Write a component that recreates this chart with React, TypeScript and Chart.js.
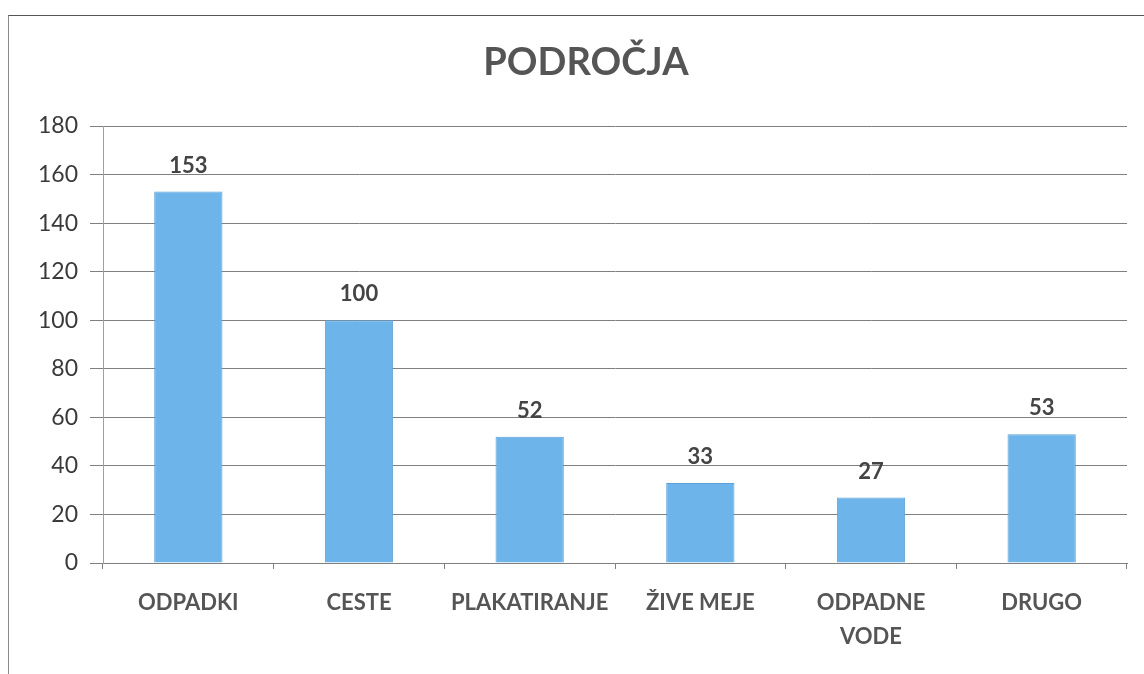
import React, { useEffect, useRef } from "react";
import { Chart, registerables } from "chart.js";

Chart.register(...registerables);

const TITLE = "PODROČJA";
const categories: (string | string[])[] = [
  "ODPADKI",
  "CESTE",
  "PLAKATIRANJE",
  "ŽIVE MEJE",
  ["ODPADNE", "VODE"],
  "DRUGO",
];
const values = [153, 100, 52, 33, 27, 53];
const yTicks = [0, 20, 40, 60, 80, 100, 120, 140, 160, 180];

const FONT = "Lato, 'Noto Sans', sans-serif";

const valueLabels = {
  id: "valueLabels",
  afterDatasetsDraw(chart: any) {
    const ctx = chart.ctx;
    const meta = chart.getDatasetMeta(0);
    ctx.save();
    ctx.font = `bold 22px ${FONT}`;
    ctx.fillStyle = "#444444";
    ctx.textAlign = "center";
    ctx.textBaseline = "middle";
    meta.data.forEach((el: any, i: number) => {
      ctx.fillText(String(values[i]), el.x, el.y - 26);
    });
    ctx.restore();
  },
};

const titlePlugin = {
  id: "offsetTitle",
  afterDraw(chart: any) {
    const ctx = chart.ctx;
    const { left, right, top } = chart.chartArea;
    ctx.save();
    ctx.font = `bold 38px ${FONT}`;
    ctx.fillStyle = "#555555";
    ctx.textAlign = "center";
    ctx.textBaseline = "middle";
    ctx.fillText(TITLE, (left + right) / 2 - 29, top - 63);
    ctx.restore();
  },
};

export default function App() {
  const ref = useRef<HTMLCanvasElement | null>(null);

  useEffect(() => {
    if (!ref.current) return;
    const chart = new Chart(ref.current, {
      type: "bar",
      data: {
        labels: categories,
        datasets: [
          {
            data: values,
            backgroundColor: "#6cb4ea",
            borderColor: "#5d9fd6",
            borderWidth: 1,
            barPercentage: 0.8,
            categoryPercentage: 0.5,
          },
        ],
      },
      plugins: [valueLabels, titlePlugin],
      options: {
        responsive: false,
        animation: false,
        layout: { padding: { left: 0, right: 37, top: 111, bottom: 0 } },
        plugins: {
          legend: { display: false },
          tooltip: { enabled: false },
          title: { display: false },
        },
        scales: {
          x: {
            grid: {
              offset: true,
              drawOnChartArea: false,
              drawTicks: true,
              tickLength: 6,
              color: "#808080",
            },
            border: { display: true, color: "#808080", width: 1 },
            ticks: {
              color: "#555555",
              font: { family: FONT, size: 22, weight: "bold", lineHeight: 1.55 },
              padding: 17,
              maxRotation: 0,
              autoSkip: false,
            },
            afterFit: (s: any) => {
              s.height = 111;
            },
          },
          y: {
            min: 0,
            max: 180,
            afterBuildTicks: (s: any) => {
              s.ticks = yTicks.map((v) => ({ value: v }));
            },
            grid: {
              color: "#808080",
              lineWidth: 1,
              drawTicks: true,
              tickLength: 13,
            },
            border: { display: true, color: "#a0a0a0", width: 1 },
            ticks: {
              color: "#3a3a3a",
              font: { family: FONT, size: 23 },
              padding: 12,
            },
            afterFit: (s: any) => {
              s.width = 95;
            },
          },
        },
      },
    });
    return () => chart.destroy();
  }, []);

  return (
    <div
      style={{
        position: "fixed",
        left: 0,
        top: 0,
        width: 1144,
        height: 674,
        overflow: "hidden",
        background: "#ffffff",
      }}
    >
      <canvas
        ref={ref}
        width={1156}
        height={659}
        style={{ position: "absolute", left: 8, top: 15, width: 1156, height: 659 }}
      />
      <div
        style={{
          position: "absolute",
          left: 8,
          top: 15,
          width: 1200,
          height: 700,
          borderLeft: "1px solid #8a8a8a",
          borderTop: "1px solid #555555",
          pointerEvents: "none",
        }}
      />
    </div>
  );
}
